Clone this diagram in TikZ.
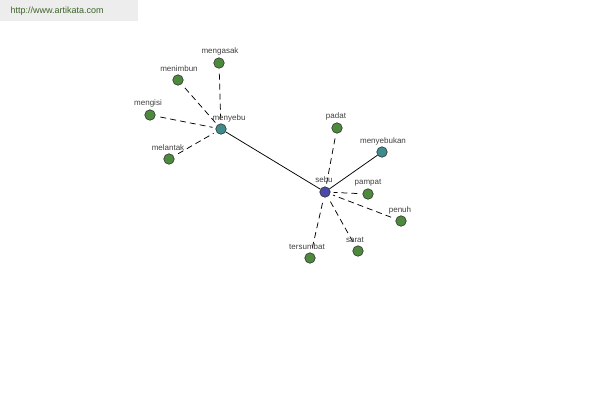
\documentclass[tikz,border=0pt]{standalone}
\usepackage{fontspec}
\setmainfont{Liberation Sans}
\begin{document}
\begin{tikzpicture}[x=1pt,y=-1pt,
  leaf/.style={circle,draw=black!80,line width=0.6pt,fill=leafgreen,minimum size=10.5pt,inner sep=0pt},
  hub/.style={circle,draw=black!80,line width=0.6pt,fill=teal1,minimum size=10.5pt,inner sep=0pt},
  core/.style={circle,draw=black!80,line width=0.6pt,fill=coreblue,minimum size=10.5pt,inner sep=0pt},
  lbl/.style={font=\fontsize{8}{9}\selectfont,text=black!75,inner sep=0pt},
  dsh/.style={draw=black,line width=0.75pt,dash pattern=on 6pt off 4pt,shorten <=5pt,shorten >=3pt},
  sol/.style={draw=black,line width=0.75pt}]
\definecolor{leafgreen}{HTML}{4E8A3E}
\definecolor{teal1}{HTML}{3F8C8C}
\definecolor{coreblue}{HTML}{4A4AA8}
\useasboundingbox[fill=white] (0,0) rectangle (600,400);
\fill[black!7] (0,0) rectangle (138,21);
\node[font=\fontsize{9}{10}\selectfont,text={rgb,255:red,60;green,100;blue,40},anchor=west] (wm) at (7,11) {http://www.artikata.com};

\node[hub] (menyebu) at (221,129) {};
\node[leaf] (mengasak) at (219,63) {};
\node[leaf] (menimbun) at (178,80) {};
\node[leaf] (mengisi) at (150,115) {};
\node[leaf] (melantak) at (169,159) {};
\node[core] (sebu) at (325,192) {};
\node[leaf] (padat) at (337,128) {};
\node[hub] (menyebukan) at (382,152) {};
\node[leaf] (pampat) at (368,194) {};
\node[leaf] (penuh) at (401,221) {};
\node[leaf] (sarat) at (358,251) {};
\node[leaf] (tersumbat) at (310,258) {};

\draw[sol] (menyebu) -- (sebu);
\draw[sol] (sebu) -- (menyebukan);
\draw[dsh] (mengasak) -- (menyebu);
\draw[dsh] (menimbun) -- (menyebu);
\draw[dsh] (mengisi) -- (menyebu);
\draw[dsh] (melantak) -- (menyebu);
\draw[dsh] (padat) -- (sebu);
\draw[dsh] (pampat) -- (sebu);
\draw[dsh] (penuh) -- (sebu);
\draw[dsh] (sarat) -- (sebu);
\draw[dsh] (tersumbat) -- (sebu);

\node[lbl] (l1) at (229,118) {menyebu};
\node[lbl] (l2) at (220,51) {mengasak};
\node[lbl] (l3) at (179,69) {menimbun};
\node[lbl] (l4) at (148,103) {mengisi};
\node[lbl] (l5) at (168,148) {melantak};
\node[lbl] (l6) at (324,180) {sebu};
\node[lbl] (l7) at (336,116) {padat};
\node[lbl] (l8) at (383,141) {menyebukan};
\node[lbl] (l9) at (368,183) {pampat};
\node[lbl] (l10) at (400,210) {penuh};
\node[lbl] (l11) at (355,240) {sarat};
\node[lbl] (l12) at (307,247) {tersumbat};
\end{tikzpicture}
\end{document}
